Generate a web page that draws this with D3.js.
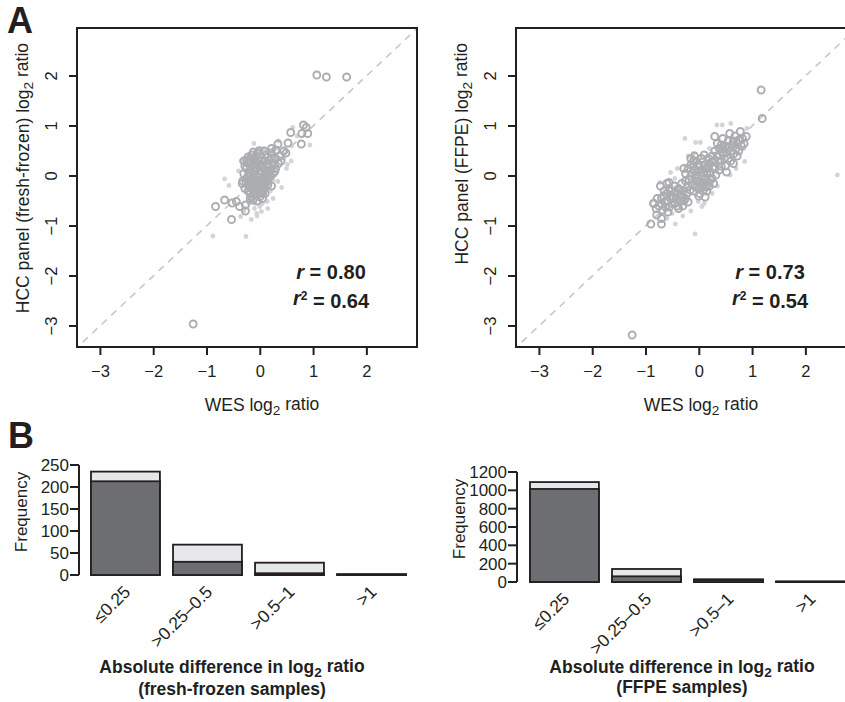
<!DOCTYPE html>
<html>
<head>
<meta charset="utf-8">
<script src="https://cdn.jsdelivr.net/npm/d3@7"></script>
<style>
  body { margin: 0; background: #fff; }
  text { font-family: Arial, "Liberation Sans", sans-serif; fill: #231f20; }
</style>
</head>
<body>
<svg id="fig" width="845" height="702"></svg>
<script>
// ---- data ----
var logTicks = [-3, -2, -1, 0, 1, 2];
var axisLim = [-3.43, 2.95];

// fresh-frozen: open circles and light dots [WES, panel]
var ffCircles = [
  [1.07, 2.02], [1.25, 1.98], [1.63, 1.98], [-1.25, -2.96],
  [0.82, 1.02], [0.87, 0.97], [0.79, 0.85], [0.90, 0.85], [0.58, 0.87], [0.78, 0.64],
  [0.53, 0.66], [0.34, 0.64], [0.49, 0.46], [0.30, 0.52], [0.21, 0.46], [-0.06, 0.39],
  [0.28, 0.09], [-0.33, -0.15], [0.15, -0.18], [0.05, -0.35], [-0.16, -0.41], [-0.13, -0.48],
  [-0.66, -0.48], [-0.83, -0.61], [-0.52, -0.54], [-0.44, -0.51], [-0.38, -0.61], [-0.27, -0.58],
  [-0.27, -0.70], [-0.53, -0.87],
  [-0.2, 0.3], [-0.1, 0.35], [0, 0.38], [0.1, 0.3], [0.15, 0.2], [-0.25, 0.15], [-0.15, 0.2],
  [-0.05, 0.25], [0.05, 0.2], [0.2, 0.1], [-0.3, 0.05], [-0.2, 0.05], [-0.1, 0.1], [0, 0.1],
  [0.1, 0.05], [0.2, 0], [-0.25, -0.05], [-0.15, -0.05], [-0.05, 0], [0.05, -0.05], [0.15, -0.1],
  [-0.2, -0.15], [-0.1, -0.15], [0, -0.2], [0.1, -0.2], [-0.15, -0.25], [-0.05, -0.3], [0.05, -0.3],
  [-0.1, -0.38], [0, -0.42], [-0.28, -0.25], [0.25, 0.25], [0.3, 0.35], [0.38, 0.4], [0.45, 0.5],
  [0.4, 0.3], [-0.05, 0.45], [0.12, 0.42], [-0.22, 0.38], [0.22, -0.2], [0.08, 0.5], [-0.12, 0.48],
  [0.3, 0.15], [-0.32, -0.1], [0.18, 0.32],
  [-0.28, 0.2], [-0.22, 0.25], [-0.18, 0.12], [-0.12, 0.28], [-0.08, 0.18], [-0.02, 0.32],
  [0.02, 0.22], [0.08, 0.14], [0.12, 0.24], [0.18, 0.18], [-0.26, -0.12], [-0.22, 0.0],
  [-0.18, -0.08], [-0.12, 0.02], [-0.08, -0.08], [-0.02, 0.06], [0.02, -0.12], [0.08, -0.06],
  [0.12, 0.0], [0.18, 0.08], [-0.22, -0.3], [-0.18, -0.35], [-0.12, -0.22], [-0.08, -0.22],
  [-0.02, -0.12], [0.02, -0.28], [0.08, -0.26], [0.12, -0.12], [-0.05, -0.5], [0.05, -0.45],
  [-0.15, 0.42], [-0.02, 0.5], [0.15, 0.38], [0.22, 0.36], [-0.3, 0.3], [0.25, 0.05],
  [0.1, -0.35], [-0.18, -0.45], [0.22, 0.55], [0.35, 0.25],
  [-0.24, 0.32], [-0.16, 0.36], [-0.06, 0.14], [0.04, 0.3], [0.14, 0.1], [-0.14, -0.14],
  [-0.04, -0.2], [0.06, -0.16], [-0.1, -0.3], [0.0, -0.34], [-0.2, -0.22], [0.16, -0.02]
];
var ffDots = [
  [-0.11, 0.65], [0.62, 0.97], [0.94, 0.62], [0.59, 0.30], [0.52, 0.23], [-0.66, -0.06],
  [-0.58, -0.19], [0.41, -0.23], [0.14, -0.51], [0.03, -0.71], [-0.16, -0.87], [-0.36, -0.81],
  [-0.88, -1.20], [-0.26, -1.21], [0, -0.61], [-0.06, -0.75], [-0.09, -0.54], [0.25, -0.08],
  [0.34, -0.11], [0.19, 0.06], [0.08, 0.54], [-0.2, -0.55], [-0.1, -0.65], [0.05, -0.55],
  [-0.05, -0.8], [0.1, -0.4], [0.2, -0.3], [-0.3, -0.7], [0.15, -0.65], [0.3, 0.55],
  [0.45, 0.35], [0.6, 0.6], [0.7, 0.8], [0.35, 0.7], [-0.35, 0.3], [-0.4, 0.1], [0.0, 0.55],
  [0.5, 0.15], [0.25, -0.45]
];

// FFPE
var ffpeCircles = [
  [1.17, 1.72], [1.19, 1.15], [-1.25, -3.18], [-0.90, -0.96], [-0.70, -0.96], [-0.79, -0.78],
  [-0.70, -0.85], [-0.84, -0.55], [-0.56, -0.13], [-0.28, 0.15], [0.30, 0.79],
  [-0.85, -0.55], [-0.75, -0.6], [-0.7, -0.45], [-0.65, -0.3], [-0.72, -0.2], [-0.62, -0.5],
  [-0.55, -0.62], [-0.5, -0.4], [-0.45, -0.55], [-0.4, -0.35], [-0.35, -0.5], [-0.3, -0.6],
  [-0.3, -0.3], [-0.25, -0.45], [-0.6, -0.15], [-0.55, -0.25], [-0.45, -0.2], [-0.38, -0.65],
  [-0.68, -0.68], [-0.58, -0.72],
  [-0.2, -0.2], [-0.1, -0.3], [0, -0.25], [0.1, -0.15], [0.15, -0.3], [-0.15, 0], [-0.05, -0.1],
  [0.05, 0], [0.15, 0.05], [0.25, -0.05], [-0.2, 0.15], [-0.1, 0.2], [0, 0.1], [0.1, 0.2],
  [0.2, 0.25], [-0.05, 0.3], [0.05, 0.35], [-0.15, 0.35], [0.25, 0.4], [-0.25, 0.05], [0.0, -0.4],
  [0.12, -0.42], [-0.25, -0.1], [0.3, 0.15], [0.2, -0.2],
  [0.3, 0.5], [0.35, 0.65], [0.4, 0.3], [0.45, 0.45], [0.5, 0.6], [0.55, 0.35], [0.6, 0.5],
  [0.65, 0.7], [0.7, 0.55], [0.75, 0.72], [0.58, 0.85], [0.8, 0.6], [0.78, 0.89], [0.89, 0.79],
  [0.5, 0.2], [0.65, 0.25], [0.45, 0.75], [0.72, 0.4], [0.38, 0.12],
  [-0.8, -0.65], [-0.78, -0.45], [-0.7, -0.55], [-0.66, -0.4], [-0.62, -0.62], [-0.6, -0.35],
  [-0.58, -0.5], [-0.52, -0.3], [-0.5, -0.55], [-0.48, -0.45], [-0.42, -0.45], [-0.4, -0.6],
  [-0.38, -0.25], [-0.35, -0.38], [-0.32, -0.15], [-0.28, -0.5], [-0.22, -0.35], [-0.2, -0.52],
  [-0.18, -0.08], [-0.15, 0.22], [-0.12, -0.18], [-0.08, 0.12], [-0.05, -0.22], [-0.02, 0.22],
  [0.02, -0.12], [0.05, 0.12], [0.08, -0.3], [0.08, 0.28], [0.12, -0.05], [0.15, 0.15],
  [0.18, -0.12], [0.18, 0.35], [0.22, 0.08], [0.25, 0.28], [0.28, -0.15], [0.1, 0.42],
  [-0.08, 0.4], [0.02, -0.35], [0.3, 0.32], [0.32, 0.02],
  [0.35, 0.4], [0.38, 0.55], [0.42, 0.2], [0.42, 0.62], [0.48, 0.35], [0.52, 0.48],
  [0.55, 0.7], [0.6, 0.3], [0.62, 0.62], [0.66, 0.45], [0.68, 0.8], [0.72, 0.65],
  [0.75, 0.5], [0.82, 0.75], [0.85, 0.65], [0.52, 0.08],
  [-0.12, 0.06], [-0.02, -0.04], [0.08, 0.06], [0.18, 0.2], [-0.16, -0.28], [-0.06, 0.02],
  [0.04, -0.2], [0.14, -0.22], [0.22, -0.08], [0.26, 0.16], [-0.1, 0.3], [0.0, 0.2],
  [-0.45, -0.32], [-0.36, -0.28], [-0.32, -0.42], [-0.54, -0.44], [0.46, 0.54], [0.56, 0.56]
];
var ffpeDots = [
  [-0.26, 0.75], [-0.06, 0.67], [0.03, 0.67], [0.34, 1.02], [0.44, 1.02], [0.86, 0.29],
  [-0.07, -1.16], [-0.44, -0.96], [-0.73, -0.13], [-0.53, 0.07], [0.06, -0.61], [-0.01, -0.51],
  [0.59, 0.02], [2.60, 0.02], [-0.45, -0.05], [-0.4, 0.15], [-0.2, 0.4], [0.1, -0.55],
  [-0.3, -0.8], [-0.15, -0.7], [0.35, -0.2], [0.25, -0.35], [0.85, 0.55], [0.9, 0.95],
  [0.6, 1.05], [0.2, 0.55], [-0.1, 0.45], [0.7, 0.15], [-0.6, -0.85], [-0.5, -0.75]
];

var ffStats = ["0.80", "0.64"];
var ffpeStats = ["0.73", "0.54"];

var bins = ["\u22640.25", ">0.25\u20130.5", ">0.5\u20131", ">1"];
var ffConcord = [213, 30, 4, 1];
var ffTotal = [235, 69, 28, 2];
var ffpeConcord = [1015, 62, 22, 4];
var ffpeTotal = [1090, 142, 30, 6];
var ffFreqTicks = [0, 50, 100, 150, 200, 250];
var ffpeFreqTicks = [0, 200, 400, 600, 800, 1000, 1200];

// ---- drawing ----
var svg = d3.select('#fig');
var ink = '#231f20';
var fmt = d3.format('d');

function subText(sel, before, sub, after) {
  sel.append('tspan').text(before);
  sel.append('tspan').attr('dy', '0.32em').attr('font-size', '0.78em').text(sub);
  sel.append('tspan').attr('dy', '-0.32em').text(after);
}

function scatter(left, circles, dots, stats, yTitle) {
  var x = d3.scaleLinear().domain(axisLim).range([left, left + 340]);
  var y = d3.scaleLinear().domain([-3.42, 2.96]).range([347, 28]);
  var g = svg.append('g');
  var cid = 'clip' + left;
  svg.append('clipPath').attr('id', cid)
    .append('rect').attr('x', left).attr('y', 28).attr('width', 340).attr('height', 319);
  var plot = g.append('g').attr('clip-path', 'url(#' + cid + ')');

  plot.append('line')
    .attr('x1', x(-3.5)).attr('y1', y(-3.5)).attr('x2', x(3.1)).attr('y2', y(3.1))
    .attr('stroke', '#c6c7c8').attr('stroke-width', 1.6).attr('stroke-dasharray', '7,6');

  plot.selectAll('.dot').data(dots).enter().append('circle')
    .attr('cx', function(d) { return x(d[0]); })
    .attr('cy', function(d) { return y(d[1]); })
    .attr('r', 2.4).attr('fill', '#d3d4d5');

  plot.selectAll('.ring').data(circles).enter().append('circle')
    .attr('cx', function(d) { return x(d[0]); })
    .attr('cy', function(d) { return y(d[1]); })
    .attr('r', 3.5).attr('fill', 'none')
    .attr('stroke', '#abadb0').attr('stroke-width', 1.9);

  g.append('rect').attr('x', left).attr('y', 28).attr('width', 340).attr('height', 319)
    .attr('fill', 'none').attr('stroke', ink).attr('stroke-width', 2);

  // x axis
  var xa = g.append('g').attr('transform', 'translate(0,347)')
    .call(d3.axisBottom(x).tickValues(logTicks).tickFormat(fmt).tickSize(8).tickPadding(10));
  xa.select('.domain').remove();
  xa.selectAll('line').attr('stroke', ink).attr('stroke-width', 2);
  xa.selectAll('text').attr('font-size', 16.5).attr('font-family', 'Arial, "Liberation Sans", sans-serif')
    .attr('fill', ink);

  // y axis, labels turned like R
  logTicks.forEach(function(v) {
    g.append('line').attr('x1', left).attr('x2', left - 8).attr('y1', y(v)).attr('y2', y(v))
      .attr('stroke', ink).attr('stroke-width', 2);
    g.append('text').attr('transform', 'translate(' + (left - 20) + ',' + y(v) + ') rotate(-90)')
      .attr('text-anchor', 'middle').attr('font-size', 16.5).text(fmt(v));
  });

  var yt = g.append('text').attr('transform', 'translate(' + (left - 48) + ',43) rotate(-90)')
    .attr('text-anchor', 'end').attr('font-size', 17.5);
  subText(yt, yTitle, '2', ' ratio');

  var xt = g.append('text').attr('x', left + 185).attr('y', 411)
    .attr('text-anchor', 'middle').attr('font-size', 17.5);
  subText(xt, 'WES log', '2', ' ratio');

  var s1 = g.append('text').attr('x', left + 254).attr('y', 279).attr('text-anchor', 'middle')
    .attr('font-size', 20).attr('font-weight', 'bold');
  s1.append('tspan').attr('font-style', 'italic').text('r');
  s1.append('tspan').text(' = ' + stats[0]);
  var s2 = g.append('text').attr('x', left + 254).attr('y', 305).attr('text-anchor', 'middle')
    .attr('font-size', 20).attr('font-weight', 'bold');
  s2.append('tspan').attr('font-style', 'italic').text('r');
  s2.append('tspan').attr('dy', '-0.4em').attr('font-size', '0.6em').text('2');
  s2.append('tspan').attr('dy', '0.4em').text(' = ' + stats[1]);
}

function bars(cfg) {
  var x = d3.scaleBand().domain(bins).range(cfg.band).paddingInner(0.16).paddingOuter(0);
  var y = d3.scaleLinear().domain([0, cfg.ticks[cfg.ticks.length - 1]]).range([cfg.base, cfg.base - 110]);
  var g = svg.append('g');

  bins.forEach(function(b, i) {
    g.append('rect').attr('x', x(b)).attr('width', x.bandwidth())
      .attr('y', y(cfg.total[i])).attr('height', y(0) - y(cfg.total[i]))
      .attr('fill', '#e6e7e8').attr('stroke', ink).attr('stroke-width', 1.8);
    g.append('rect').attr('x', x(b)).attr('width', x.bandwidth())
      .attr('y', y(cfg.concord[i])).attr('height', y(0) - y(cfg.concord[i]))
      .attr('fill', '#6d6e71').attr('stroke', ink).attr('stroke-width', 1.8);
    g.append('text')
      .attr('transform', 'translate(' + (x(b) + x.bandwidth() / 2 + 6) + ',' + (cfg.base + 18) + ') rotate(-45)')
      .attr('text-anchor', 'end').attr('font-size', 17.5).text(b);
  });

  g.append('line').attr('x1', cfg.axisX).attr('x2', cfg.axisX)
    .attr('y1', y(0)).attr('y2', y(cfg.ticks[cfg.ticks.length - 1]))
    .attr('stroke', ink).attr('stroke-width', 2);
  cfg.ticks.forEach(function(v) {
    g.append('line').attr('x1', cfg.axisX).attr('x2', cfg.axisX - 9).attr('y1', y(v)).attr('y2', y(v))
      .attr('stroke', ink).attr('stroke-width', 2);
    g.append('text').attr('x', cfg.axisX - 10).attr('y', y(v)).attr('dy', '0.36em')
      .attr('text-anchor', 'end').attr('font-size', 17).text(v);
  });

  g.append('text').attr('transform', 'translate(' + (cfg.axisX - 52) + ',' + cfg.freqY + ') rotate(-90)')
    .attr('text-anchor', 'middle').attr('font-size', 17).text('Frequency');

  var t1 = g.append('text').attr('x', cfg.titleX).attr('y', 673).attr('text-anchor', 'middle')
    .attr('font-size', 17.5).attr('font-weight', 'bold');
  subText(t1, 'Absolute difference in log', '2', ' ratio');
  g.append('text').attr('x', cfg.titleX).attr('y', cfg.subY).attr('text-anchor', 'middle')
    .attr('font-size', 17.5).attr('font-weight', 'bold').text(cfg.sub);
}

scatter(77, ffCircles, ffDots, ffStats, 'HCC panel (fresh-frozen) log');
scatter(516, ffpeCircles, ffpeDots, ffpeStats, 'HCC panel (FFPE) log');

bars({ band: [91, 406], base: 575, axisX: 79, ticks: ffFreqTicks, concord: ffConcord, total: ffTotal,
       freqY: 512, titleX: 232, subY: 695, sub: '(fresh-frozen samples)' });
bars({ band: [530, 845], base: 582, axisX: 517, ticks: ffpeFreqTicks, concord: ffpeConcord, total: ffpeTotal,
       freqY: 519, titleX: 682, subY: 693, sub: '(FFPE samples)' });

svg.append('text').attr('x', 7).attr('y', 33).attr('font-size', 36).attr('font-weight', 'bold').text('A');
svg.append('text').attr('x', 8).attr('y', 448).attr('font-size', 36).attr('font-weight', 'bold').text('B');
</script>
</body>
</html>
